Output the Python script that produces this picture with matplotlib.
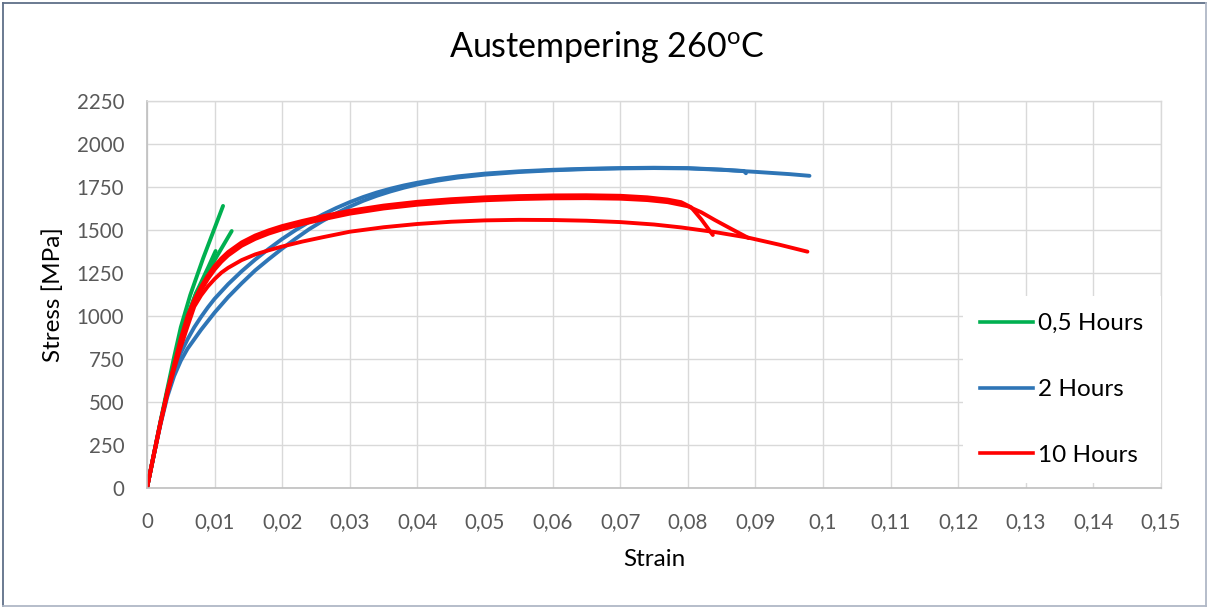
import matplotlib
matplotlib.use("Agg")
import matplotlib.pyplot as plt
from matplotlib.ticker import FuncFormatter
from matplotlib.lines import Line2D

plt.rcParams['font.family'] = ['Lato', 'DejaVu Sans']
plt.rcParams['mathtext.fontset'] = 'custom'
plt.rcParams['mathtext.rm'] = 'Lato'
plt.rcParams['mathtext.it'] = 'Lato:italic'
plt.rcParams['mathtext.bf'] = 'Lato:bold'

# ---- data ----
title = "Austempering 260$^{\\mathrm{o}}$C"
series_names = ["0,5 Hours", "2 Hours", "10 Hours"]
series_colors = ["#00B050", "#2E75B6", "#FF0000"]

# 0.5 hours (green) specimens
g1_strain = [0, 0.001, 0.002, 0.003, 0.004, 0.005, 0.0064, 0.0083, 0.0098, 0.01125]
g1_stress = [0, 195, 390, 575, 760, 935, 1122, 1335, 1490, 1640]
g2_strain = [0, 0.001, 0.002, 0.003, 0.004, 0.005, 0.006, 0.0073, 0.0088, 0.0103, 0.01253]
g2_stress = [0, 190, 380, 560, 720, 865, 1000, 1135, 1238, 1345, 1494]
g3_strain = [0, 0.001, 0.002, 0.003, 0.004, 0.005, 0.006, 0.0072, 0.0091, 0.01015]
g3_stress = [0, 190, 380, 560, 720, 865, 1000, 1128, 1287, 1378]

# 2 hours (blue) specimens
b1_strain = [0, 0.001, 0.002, 0.003, 0.004, 0.005, 0.006, 0.007, 0.008, 0.009, 0.010,
             0.012, 0.014, 0.016, 0.018, 0.020, 0.022, 0.024, 0.026, 0.028, 0.030, 0.032,
             0.034, 0.036, 0.038, 0.040, 0.043, 0.046, 0.050, 0.055, 0.060, 0.065, 0.070,
             0.075, 0.080, 0.085, 0.0883, 0.0886]
b1_stress = [0, 195, 385, 550, 680, 785, 865, 935, 995, 1050, 1100,
             1185, 1260, 1328, 1390, 1448, 1500, 1547, 1590, 1628, 1662, 1692,
             1718, 1740, 1759, 1775, 1796, 1812, 1828, 1841, 1850, 1856, 1860,
             1862, 1860, 1851, 1843, 1830]
b2_strain = [0, 0.001, 0.002, 0.003, 0.004, 0.005, 0.006, 0.007, 0.008, 0.009, 0.010,
             0.012, 0.014, 0.016, 0.018, 0.020, 0.022, 0.024, 0.026, 0.028, 0.030, 0.032,
             0.034, 0.036, 0.038, 0.040, 0.043, 0.046, 0.050, 0.055, 0.060, 0.065, 0.070,
             0.075, 0.080, 0.085, 0.090, 0.095, 0.098]
b2_stress = [0, 190, 370, 530, 650, 740, 810, 865, 920, 970, 1020,
             1110, 1190, 1265, 1330, 1392, 1450, 1505, 1553, 1597, 1636, 1670,
             1699, 1724, 1746, 1765, 1787, 1805, 1822, 1837, 1847, 1854, 1858,
             1860, 1858, 1850, 1838, 1825, 1815]

# 10 hours (red) specimens
r1_strain = [0, 0.001, 0.002, 0.003, 0.004, 0.005, 0.006, 0.007, 0.008, 0.009, 0.010,
             0.011, 0.012, 0.014, 0.016, 0.018, 0.020, 0.023, 0.026, 0.030, 0.035, 0.040,
             0.045, 0.050, 0.055, 0.060, 0.065, 0.070, 0.074, 0.077, 0.079, 0.0805, 0.082,
             0.0837]
r1_stress = [0, 195, 385, 560, 715, 870, 1000, 1095, 1170, 1235, 1290,
             1335, 1372, 1428, 1468, 1498, 1523, 1553, 1580, 1612, 1642, 1664,
             1679, 1690, 1697, 1701, 1702, 1699, 1690, 1677, 1662, 1632, 1562,
             1471]
r2_strain = [0, 0.001, 0.002, 0.003, 0.004, 0.005, 0.006, 0.007, 0.008, 0.009, 0.010,
             0.011, 0.012, 0.014, 0.016, 0.018, 0.020, 0.023, 0.026, 0.030, 0.035, 0.040,
             0.045, 0.050, 0.055, 0.060, 0.065, 0.070, 0.074, 0.077, 0.080, 0.082, 0.084,
             0.0865, 0.089]
r2_stress = [0, 190, 380, 550, 700, 850, 975, 1075, 1150, 1215, 1270,
             1315, 1352, 1408, 1448, 1479, 1504, 1535, 1562, 1595, 1625, 1647,
             1662, 1673, 1680, 1684, 1685, 1682, 1674, 1662, 1638, 1603, 1558,
             1505, 1453]
r3_strain = [0, 0.001, 0.002, 0.003, 0.004, 0.005, 0.006, 0.007, 0.008, 0.009, 0.010,
             0.011, 0.012, 0.014, 0.016, 0.018, 0.020, 0.023, 0.026, 0.030, 0.035, 0.040,
             0.045, 0.050, 0.055, 0.060, 0.065, 0.070, 0.075, 0.079, 0.084, 0.089, 0.0935,
             0.0977]
r3_stress = [0, 190, 375, 545, 690, 820, 940, 1055, 1120, 1172, 1215,
             1252, 1280, 1325, 1358, 1382, 1404, 1433, 1458, 1490, 1516, 1535,
             1548, 1556, 1559, 1558, 1554, 1546, 1532, 1515, 1488, 1455, 1415,
             1374]

x_ticks = [i / 100 for i in range(0, 16)]
y_ticks = list(range(0, 2251, 250))

# ---- figure ----
W, H = 1210, 607
fig = plt.figure(figsize=(W / 100, H / 100), dpi=100)
ax = fig.add_axes([147 / W, 1 - 488 / H, (1161 - 147) / W, (488 - 101) / H])

lw = 2.8
groups = [
    [(g1_strain, g1_stress), (g2_strain, g2_stress), (g3_strain, g3_stress)],
    [(b1_strain, b1_stress), (b2_strain, b2_stress)],
    [(r1_strain, r1_stress), (r2_strain, r2_stress), (r3_strain, r3_stress)],
]
for grp, col in zip(groups, series_colors):
    for xs, ys in grp:
        ax.plot(xs, ys, color=col, lw=lw, solid_capstyle='round', solid_joinstyle='round')

ax.set_xlim(0, 0.15)
ax.set_ylim(0, 2250)
ax.set_xticks(x_ticks)
ax.set_yticks(y_ticks)


def fmt(v, pos):
    s = f"{round(v, 2):g}"
    return s.replace('.', ',')


ax.xaxis.set_major_formatter(FuncFormatter(fmt))
ax.grid(True, color='#d9d9d9', lw=1.0)
ax.set_axisbelow(True)
for side in ['top', 'right']:
    ax.spines[side].set_color('#d9d9d9')
    ax.spines[side].set_linewidth(1.0)
for side in ['left', 'bottom']:
    ax.spines[side].set_color('#bfbfbf')
    ax.spines[side].set_linewidth(1.2)
ax.tick_params(axis='both', length=0, labelsize=14.8, colors='#595959')
ax.tick_params(axis='y', pad=16.3)
ax.tick_params(axis='x', pad=17)

ax.set_xlabel("Strain", fontsize=17.5, color='black')
ax.xaxis.set_label_coords(0.5, -(559 - 488) / 387)
ax.xaxis.label.set_va('center')
ax.set_ylabel("Stress [MPa]", fontsize=17.5, color='black')
ax.yaxis.set_label_coords((53 - 147) / 1014, 0.5)
ax.yaxis.label.set_va('center')

fig.text(607 / W, 1 - 47 / H, title, fontsize=24.5, ha='center', va='center', color='black')

handles = [Line2D([0], [0], color=c, lw=2.6) for c in series_colors]
leg = ax.legend(handles, series_names, loc='upper left',
                bbox_to_anchor=((963 - 147) / 1014, (488 - 296) / 387),
                borderaxespad=0, borderpad=0.7, fontsize=17.5, frameon=True,
                handlelength=2.2, handletextpad=0.2, labelspacing=1.85)
leg.get_frame().set_facecolor('white')
leg.get_frame().set_edgecolor('none')
leg.get_frame().set_alpha(1)
leg.get_frame().set_boxstyle('square', pad=0)

# outer chart border
fig.add_artist(Line2D([2.5 / W, 2.5 / W], [1 - 2.5 / H, 1 - 605.5 / H], color='#5f6f88', lw=1.3))
fig.add_artist(Line2D([2.5 / W, 1206 / W], [1 - 2.5 / H, 1 - 2.5 / H], color='#5f6f88', lw=1.3))
fig.add_artist(Line2D([2.5 / W, 1206 / W], [1 - 605.5 / H, 1 - 605.5 / H], color='#b0b8c6', lw=1.3))
fig.add_artist(Line2D([1206 / W, 1206 / W], [1 - 2.5 / H, 1 - 605.5 / H], color='#b0b8c6', lw=1.3))

fig.savefig("out.png", dpi=100)
